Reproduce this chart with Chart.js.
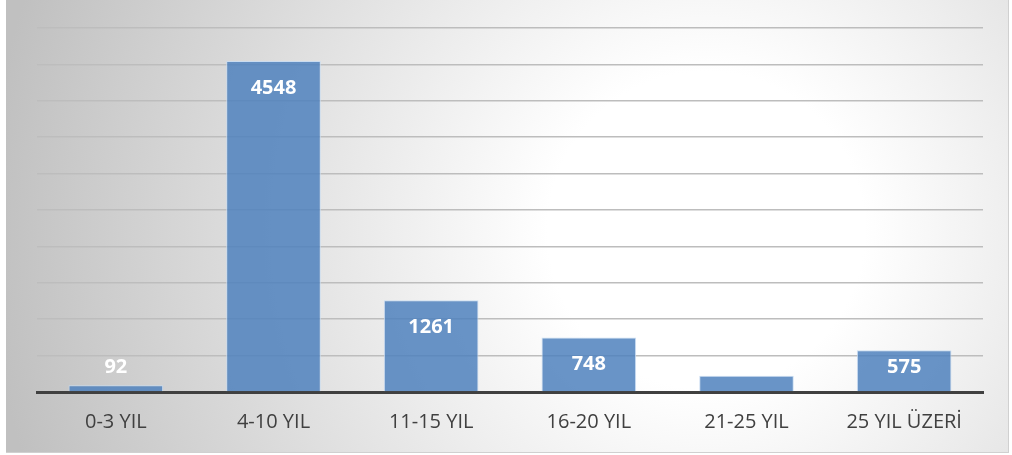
<!DOCTYPE html>
<html>
<head>
<meta charset="utf-8">
<script src="https://cdn.jsdelivr.net/npm/chart.js@4.4.0/dist/chart.umd.min.js"></script>
<style>
  html, body { margin: 0; padding: 0; background: #ffffff; }
  #wrap { position: absolute; left: 6px; top: 0; width: 1002px; height: 452px; border-right: 1px solid #d0d0d0; border-bottom: 1px solid #d0d0d0; }
</style>
</head>
<body>
<div id="wrap"><canvas id="chart"></canvas></div>
<script>
// --- data ---
const categories = ['0-3 YIL', '4-10 YIL', '11-15 YIL', '16-20 YIL', '21-25 YIL', '25 YIL ÜZERİ'];
const counts = [92, 4548, 1261, 748, 224, 575];
const yMax = 5000;
const yStep = 500;

// background gradient (grey edges, light centre)
const bgPlugin = {
    id: 'bg',
    beforeDraw(chart) {
        const c = chart.ctx;
        const w = chart.width, h = chart.height;
        const g = c.createRadialGradient(700, 230, 0, 700, 230, 720);
        g.addColorStop(0, '#ffffff');
        g.addColorStop(0.22, '#ffffff');
        g.addColorStop(1, '#c0c0c0');
        c.save();
        c.fillStyle = g;
        c.fillRect(0, 0, w, h);
        c.restore();
    }
};

// white value labels near top of each bar
const valuePlugin = {
    id: 'values',
    afterDatasetsDraw(chart) {
        const c = chart.ctx;
        const meta = chart.getDatasetMeta(0);
        const base = chart.scales.y.getPixelForValue(0);
        c.save();
        c.font = 'bold 20px "Open Sans"';
        c.fillStyle = '#ffffff';
        c.textAlign = 'center';
        c.textBaseline = 'middle';
        meta.data.forEach((bar, i) => {
            const y = Math.min(bar.y + 27, base - 25);
            c.fillText(String(counts[i]), bar.x, y);
        });
        c.restore();
    }
};

new Chart(document.getElementById('chart'), {
    type: 'bar',
    data: {
        labels: categories,
        datasets: [{
            data: counts,
            backgroundColor: 'rgba(79,129,189,0.85)',
            borderColor: 'rgba(200,220,242,0.9)',
            borderWidth: 1,
            categoryPercentage: 0.6,
            barPercentage: 1.0
        }]
    },
    options: {
        responsive: true,
        maintainAspectRatio: false,
        animation: false,
        layout: { padding: { left: 31, right: 25, top: 28, bottom: 0 } },
        plugins: { legend: { display: false }, tooltip: { enabled: false } },
        scales: {
            x: {
                grid: { display: false, drawTicks: false },
                border: { color: '#404040', width: 3 },
                ticks: { color: '#404040', font: { family: 'Open Sans', size: 20 }, padding: 18 }
            },
            y: {
                min: 0, max: yMax,
                ticks: { display: false, stepSize: yStep },
                grid: { color: '#bdbdbd', lineWidth: 1.5, drawTicks: false },
                border: { display: false }
            }
        }
    },
    plugins: [bgPlugin, valuePlugin]
});
</script>
</body>
</html>
